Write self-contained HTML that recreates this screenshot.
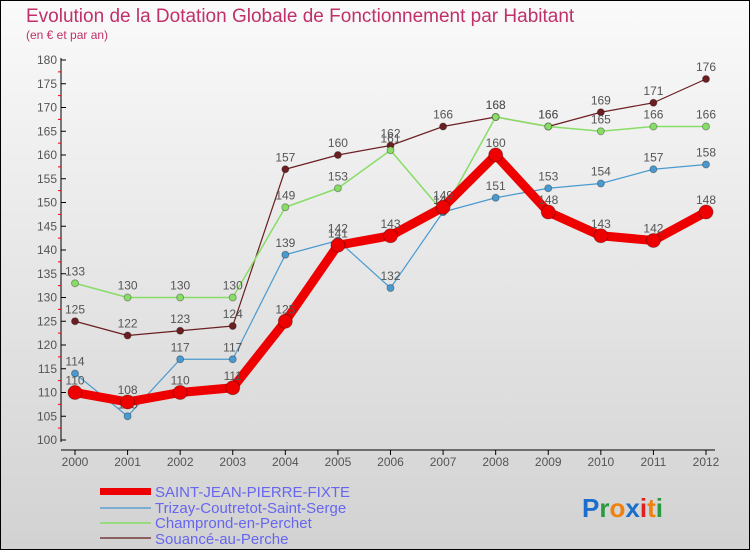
<!DOCTYPE html>
<html><head><meta charset="utf-8"><style>
body{margin:0;width:750px;height:550px;overflow:hidden}
svg{display:block;font-family:"Liberation Sans",sans-serif}
</style></head><body>
<svg width="750" height="550">
<defs><linearGradient id="bg" x1="0" y1="0" x2="0" y2="1"><stop offset="0" stop-color="#fafafa"/><stop offset="1" stop-color="#d2d2d2"/></linearGradient></defs>
<rect x="0.5" y="0.5" width="749" height="549" fill="url(#bg)" stroke="#000"/>
<text x="26" y="22" font-size="19" fill="#c0306a">Evolution de la Dotation Globale de Fonctionnement par Habitant</text>
<text x="26" y="39" font-size="12" fill="#c0306a">(en € et par an)</text>
<g id="axes"></g><g id="series"></g>
<g>
<rect x="100" y="488" width="51" height="7" fill="#e00"/>
<text x="155" y="497" font-size="15" fill="#6666ee">SAINT-JEAN-PIERRE-FIXTE</text>
<rect x="100" y="507" width="51" height="2" fill="#7aaed0"/>
<text x="155" y="513" font-size="15" fill="#6666ee">Trizay-Coutretot-Saint-Serge</text>
<rect x="100" y="522" width="51" height="2" fill="#98da80"/>
<text x="155" y="528" font-size="15" fill="#6666ee">Champrond-en-Perchet</text>
<rect x="100" y="537" width="51" height="2" fill="#8a6060"/>
<text x="155" y="544" font-size="15" fill="#6666ee">Souancé-au-Perche</text>
</g>
<text x="582" y="517" font-size="26" font-weight="bold"><tspan fill="#1a6fcc">P</tspan><tspan fill="#2a9a40">r</tspan><tspan fill="#f08010">o</tspan><tspan fill="#1a6fcc">x</tspan><tspan fill="#e02020">i</tspan><tspan fill="#f08010">t</tspan><tspan fill="#2a9a40">i</tspan></text>
</svg>
<script>
const years=[2000,2001,2002,2003,2004,2005,2006,2007,2008,2009,2010,2011,2012];
const yTicks=[100,105,110,115,120,125,130,135,140,145,150,155,160,165,170,175,180];
const sjpf=[110,108,110,111,125,141,143,149,160,148,143,142,148];
const trizay=[114,105,117,117,139,142,132,148,151,153,154,157,158];
const champrond=[133,130,130,130,149,153,161,148,168,166,165,166,166];
const souance=[125,122,123,124,157,160,162,166,168,166,169,171,176];
const NS='http://www.w3.org/2000/svg';
const x=i=>75+i*(706-75)/12;
const y=v=>440-(v-100)*4.75;
function mk(t,a,p){const e=document.createElementNS(NS,t);for(const k in a)e.setAttribute(k,a[k]);p.appendChild(e);return e;}
const ax=document.getElementById('axes');
let l=mk('line',{x1:61,y1:58,x2:61,y2:442,stroke:'#000'},ax);


l=mk('line',{x1:61,y1:450,x2:715,y2:450,stroke:'#000'},ax);


yTicks.forEach((v,i)=>{
 mk('line',{x1:61,y1:y(v),x2:66,y2:y(v),stroke:'#000'},ax);
 if(i<yTicks.length-1)mk('line',{x1:58,y1:y(v+2.5),x2:61,y2:y(v+2.5),stroke:'#e00'},ax);
 const t=mk('text',{x:57,y:y(v)+4,'font-size':12,fill:'#555','text-anchor':'end'},ax);
 t.textContent=v;
 
 
});
years.forEach((yr,i)=>{
 mk('line',{x1:x(i),y1:450,x2:x(i),y2:455,stroke:'#000'},ax);
 const t=mk('text',{x:x(i),y:466,'font-size':12,fill:'#555','text-anchor':'middle'},ax);
 t.textContent=yr;
 
 
});
const sg=document.getElementById('series');
function draw(data,color,w,r,name){
 const g=mk('g',{},sg);
 
 
 const pl=mk('polyline',{points:data.map((v,i)=>x(i)+','+y(v)).join(' '),fill:'none',stroke:color,'stroke-width':w,'stroke-linejoin':'round'},g);
 
 
 data.forEach((v,i)=>{
  const c=mk('circle',{cx:x(i),cy:y(v),r:r,fill:color,stroke:'rgba(0,0,0,0.3)','stroke-width':1},g);
  
  
  const t=mk('text',{x:x(i),y:y(v)-8,'font-size':12,fill:'#555','text-anchor':'middle'},g);
  t.textContent=v;
  
  
 });
}
draw(souance,'#6b1f22',1.2,3.5,'souance');
draw(champrond,'#88dd66',1.5,3.5,'champrond');
draw(trizay,'#4a9ad0',1.2,3.5,'trizay');
draw(sjpf,'#ee0000',9,7,'saint-jean');
</script>
</body></html>
